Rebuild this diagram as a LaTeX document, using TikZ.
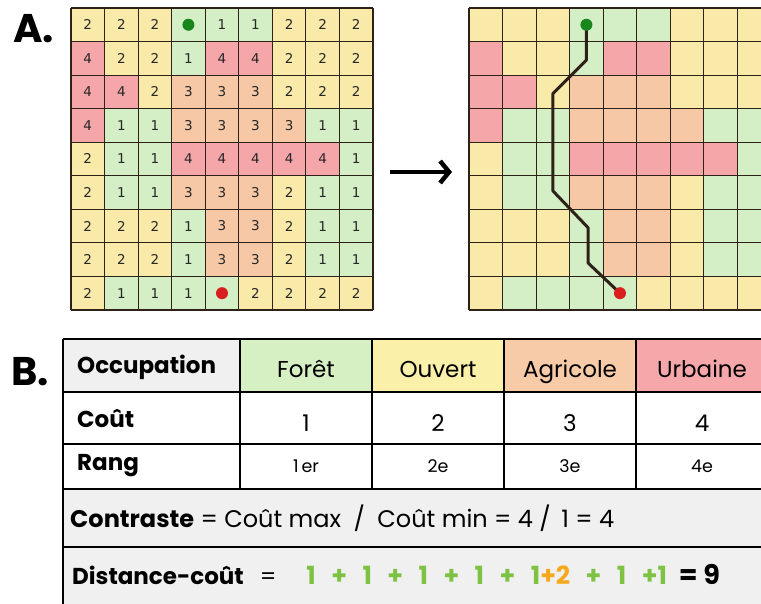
\documentclass[tikz,border=0pt]{standalone}
\usepackage{fontspec}
\setmainfont{Poppins}
\newfontfamily\gridfont{DejaVu Sans}
\usetikzlibrary{arrows.meta}
\definecolor{c1}{HTML}{D4EFC5}
\definecolor{c2}{HTML}{F9EAAA}
\definecolor{c3}{HTML}{F6C8A6}
\definecolor{c4}{HTML}{F4A6A9}
\definecolor{c5}{HTML}{D4EFC5}
\definecolor{c6}{HTML}{D4EFC5}
\definecolor{hG}{HTML}{D6F0C3}
\definecolor{hY}{HTML}{FBF0AA}
\definecolor{hO}{HTML}{F8CBA8}
\definecolor{hR}{HTML}{F6A7AA}
\definecolor{lgray}{HTML}{F0F0F0}
\definecolor{gline}{HTML}{2E2218}
\definecolor{dotG}{HTML}{18861C}
\definecolor{dotR}{HTML}{D81E1E}
\definecolor{dgreen}{HTML}{7DC242}
\definecolor{dorange}{HTML}{F6A81C}
\tikzset{
  gridline/.style={gline, line width=1.2pt},
  cellnum/.style={font=\gridfont\fontsize{13.5}{13.5}\selectfont, text=black!85, inner sep=0pt},
  tabline/.style={black, line width=1.2pt},
  bigtxt/.style={font=\fontsize{23}{23}\selectfont, inner sep=0pt, anchor=base},
  hdrtxt/.style={font=\bfseries\fontsize{23}{23}\selectfont, inner sep=0pt, anchor=base west},
  smalltxt/.style={font=\fontsize{17.5}{17.5}\selectfont, inner sep=0pt, anchor=base},
  linetxt/.style={font=\fontsize{24}{24}\selectfont, inner sep=0pt, anchor=base west},
  letter/.style={font=\bfseries\fontsize{40}{40}\selectfont, inner sep=0pt, anchor=base west},
  dot/.style={circle, inner sep=0pt, minimum size=12pt},
  route/.style={gline, line width=3pt, line join=round, line cap=round}
}
\def\cs{33.55}
\begin{document}
\begin{tikzpicture}[x=1pt,y=-1pt]
\useasboundingbox (0,0) rectangle (761,603);
\clip (0,0) rectangle (761,603);
\fill[white] (0,0) rectangle (761,603);

% letters
\node[letter] (labA) at (13,42) {A.};
\node[letter] (labB) at (11,385) {B.};

% grids
\foreach \ox/\nm in {71/L,469/R}{
  \foreach \row [count=\r] in {{2,2,2,5,1,1,2,2,2},{4,2,2,1,4,4,2,2,2},{4,4,2,3,3,3,2,2,2},{4,1,1,3,3,3,3,1,1},{2,1,1,4,4,4,4,4,1},{2,1,1,3,3,3,2,1,1},{2,2,2,1,3,3,2,1,1},{2,2,2,1,3,3,2,1,1},{2,1,1,1,6,2,2,2,2}}{
    \foreach \v [count=\c] in \row {
      \fill[c\v] ({\ox+(\c-1)*\cs},{8+(\r-1)*\cs}) rectangle +(\cs,\cs);
    }
  }
  \foreach \i in {0,...,9}{
    \draw[gridline] ({\ox+\i*\cs},8) -- ({\ox+\i*\cs},{8+9*\cs});
    \draw[gridline] (\ox,{8+\i*\cs}) -- ({\ox+9*\cs},{8+\i*\cs});
  }
}
% numbers on left grid
\foreach \row [count=\r] in {{2,2,2,5,1,1,2,2,2},{4,2,2,1,4,4,2,2,2},{4,4,2,3,3,3,2,2,2},{4,1,1,3,3,3,3,1,1},{2,1,1,4,4,4,4,4,1},{2,1,1,3,3,3,2,1,1},{2,2,2,1,3,3,2,1,1},{2,2,2,1,3,3,2,1,1},{2,1,1,1,6,2,2,2,2}}{
  \foreach \v [count=\c] in \row {
    \ifnum\v<5
      \node[cellnum] (n-\r-\c) at ({71+(\c-0.5)*\cs},{8+(\r-0.5)*\cs}) {\v};
    \fi
  }
}
% dots left
\node[dot, fill=dotG] (sL) at ({71+3.5*\cs},{8+0.5*\cs}) {};
\node[dot, fill=dotR] (eL) at ({71+4.5*\cs},{8+8.5*\cs}) {};

% route right
\coordinate (p0) at ({469+3.5*\cs},{8+0.5*\cs});
\coordinate (p1) at ({469+3.5*\cs},{8+1.55*\cs});
\coordinate (p2) at ({469+2.5*\cs},{8+2.55*\cs});
\coordinate (p3) at ({469+2.5*\cs},{8+5.45*\cs});
\coordinate (p4) at ({469+3.55*\cs},{8+6.55*\cs});
\coordinate (p5) at ({469+3.55*\cs},{8+7.6*\cs});
\coordinate (p6) at ({469+4.5*\cs},{8+8.5*\cs});
\draw[route] (p0) -- (p1) -- (p2) -- (p3) -- (p4) -- (p5) -- (p6);
\node[dot, fill=dotG] (sR) at (p0) {};
\node[dot, fill=dotR] (eR) at (p6) {};

% arrow
\coordinate (aS) at (390,172);
\coordinate (aE) at (452,172);
\draw[line width=4.5pt, -{Straight Barb[length=9pt,width=22pt,line width=4.5pt]}] (aS) -- (aE);

% table
\fill[lgray] (63,339) rectangle (240,392);
\fill[hG] (240,339) rectangle (372,392);
\fill[hY] (372,339) rectangle (504,392);
\fill[hO] (504,339) rectangle (636,392);
\fill[hR] (636,339) rectangle (768,392);
\fill[white] (63,392) rectangle (768,489);
\fill[lgray] (63,489) rectangle (768,610);
\foreach \y in {339,392,444,489,547}{
  \draw[tabline] (63,\y) -- (768,\y);
}
\draw[tabline] (63,339) -- (63,610);
\foreach \x in {240,372,504,636}{
  \draw[tabline] (\x,339) -- (\x,489);
}

\node[hdrtxt] (occ) at (77,373) {Occupation};
\node[hdrtxt] (cout) at (77,427) {Coût};
\node[hdrtxt] (rang) at (77,470) {Rang};
\foreach \x/\t/\c/\r in {306/Forêt/1/1\hspace{3pt}er,438/Ouvert/2/2e,570/Agricole/3/3e,702/Urbaine/4/4e}{
  \node[bigtxt] (h-\c) at (\x,377) {\t};
  \node[bigtxt] (v-\c) at (\x,431) {\c};
  \node[smalltxt] (r-\c) at (\x,472) {\r};
}
\node[linetxt] (contr) at (70,527) {\textbf{Contraste} = Coût max\hspace{6pt} /\hspace{6pt} Coût min = 4 /\hspace{4pt} 1 = 4};
\node[linetxt, font=\fontsize{23}{23}\selectfont] (dist) at (72,584) {\textbf{Distance-coût}\hspace{16pt}=\hspace{30pt}{\fontsize{25}{25}\selectfont\bfseries\color{dgreen}\spaceskip=15.5pt 1 + 1 + 1 + 1 + 1}{\fontsize{25}{25}\selectfont\bfseries\color{dorange}+2}{\fontsize{25}{25}\selectfont\bfseries\color{dgreen}\spaceskip=15.5pt{} + 1 +1}\hspace{12pt}{\fontsize{27}{27}\selectfont\bfseries = 9}};
\end{tikzpicture}
\end{document}
